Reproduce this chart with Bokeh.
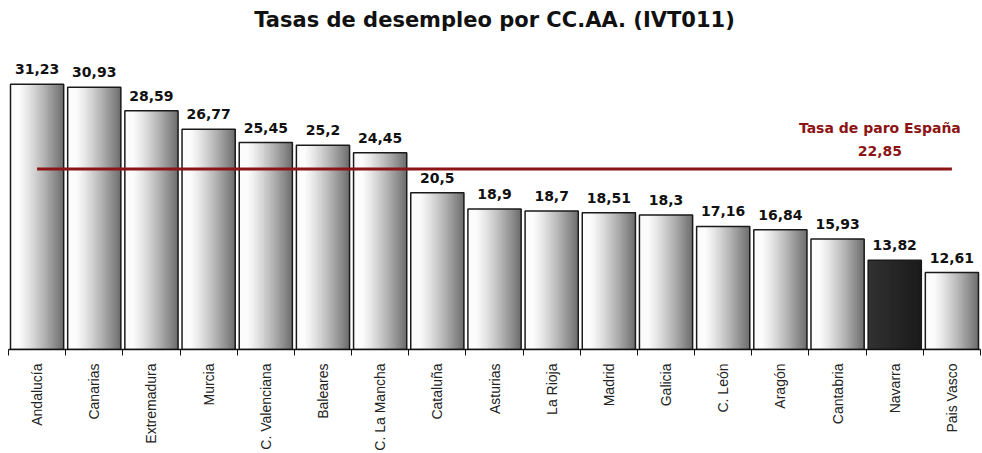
import math
from bokeh.plotting import figure
from bokeh.models import ColumnDataSource, Range1d, FixedTicker, Label, LabelSet
from bokeh.transform import dodge
from bokeh.core.properties import value
from bokeh.embed import file_html
from bokeh.resources import INLINE

# ---- data ----
regions = ["Andalucía", "Canarias", "Extremadura", "Murcia", "C. Valenciana",
           "Baleares", "C. La Mancha", "Cataluña", "Asturias", "La Rioja",
           "Madrid", "Galicia", "C. León", "Aragón", "Cantabria", "Navarra",
           "Pais Vasco"]
rates = [31.23, 30.93, 28.59, 26.77, 25.45, 25.2, 24.45, 20.5, 18.9, 18.7,
         18.51, 18.3, 17.16, 16.84, 15.93, 13.82, 12.61]
highlight = "Navarra"
spain_rate = 22.85
spain_label = "Tasa de paro España"
title_text = "Tasas de desempleo por CC.AA. (IVT011)"
y_min = 5
y_max = 35.94

n = len(regions)
centers = [i + 0.5 for i in range(n)]
rate_labels = [str(v).replace(".", ",") for v in rates]

NSTRIP = 30
BAR_W = 0.93

def strip_color(t, dark):
    if dark:
        g = 50 - 24 * t
    else:
        u = max(0.0, (t - 0.15) / 0.85)
        g = 252 - (252 - 108) * (u ** 1.2)
    g = int(round(g))
    return "#%02x%02x%02x" % (g, g, g)

data = dict(x=centers, top=rates, lab=rate_labels)
for k in range(NSTRIP):
    t = (k + 0.5) / NSTRIP
    data["c%d" % k] = [strip_color(t, r == highlight) for r in regions]
src = ColumnDataSource(data)

p = figure(width=982, height=453, output_backend="svg", toolbar_location=None,
           x_range=Range1d(0, n), y_range=Range1d(y_min, y_max),
           min_border_left=8, min_border_right=2, min_border_top=33,
           min_border_bottom=104)
p.title.text = title_text
p.title.align = "center"
p.title.text_font = "DejaVu Sans"
p.title.text_font_style = "bold"
p.title.text_font_size = "21px"
p.title.text_color = "#111111"
p.outline_line_color = None
p.grid.visible = False
p.yaxis.visible = False
p.background_fill_color = "white"
p.border_fill_color = "white"

# gradient fill: each strip runs from its left edge to the bar's right edge,
# later (darker) strips painted over earlier ones -> no seams
sw = BAR_W / NSTRIP
for k in range(NSTRIP):
    w = BAR_W - k * sw
    off = k * sw / 2
    p.vbar(x=dodge("x", off, range=p.x_range), top="top", bottom=y_min,
           width=w, fill_color="c%d" % k, line_color=None, source=src)

p.vbar(x="x", top="top", bottom=y_min, width=BAR_W, fill_alpha=0,
       line_color="#1a1a1a", line_width=1.5, source=src)

labels = LabelSet(x="x", y="top", text="lab", source=src, text_align="center",
                  text_baseline="bottom", y_offset=10,
                  text_font=value("DejaVu Sans"),
                  text_font_style=value("bold"), text_font_size=value("14px"),
                  text_color=value("#111111"))
p.add_layout(labels)

p.line(x=[centers[0], centers[-1]], y=[spain_rate, spain_rate],
       line_color="#8c1414", line_width=3)

lab_x = n - 1.76
p.add_layout(Label(x=lab_x, y=spain_rate, text=str(spain_rate).replace(".", ","),
                   text_align="center", text_baseline="bottom", y_offset=13,
                   text_font="DejaVu Sans", text_font_style="bold",
                   text_font_size="14px", text_color="#8c1414"))
p.add_layout(Label(x=lab_x, y=spain_rate, text=spain_label,
                   text_align="center", text_baseline="bottom", y_offset=33,
                   text_font="DejaVu Sans", text_font_style="bold",
                   text_font_size="14px", text_color="#8c1414"))

ax = p.xaxis[0]
ax.ticker = FixedTicker(ticks=centers, minor_ticks=list(range(n + 1)))
ax.major_label_overrides = {c: r for c, r in zip(centers, regions)}
ax.major_label_orientation = math.pi / 2
ax.major_tick_line_color = None
ax.minor_tick_in = 0
ax.minor_tick_out = 6
ax.minor_tick_line_color = "#111111"
ax.minor_tick_line_width = 1
ax.axis_line_color = "#111111"
ax.axis_line_width = 1.5
ax.major_label_text_font = "Liberation Sans"
ax.major_label_text_font_size = "14px"
ax.major_label_text_color = "#222222"
ax.major_label_standoff = 8

open("out.html", "w").write(file_html(p, INLINE))
